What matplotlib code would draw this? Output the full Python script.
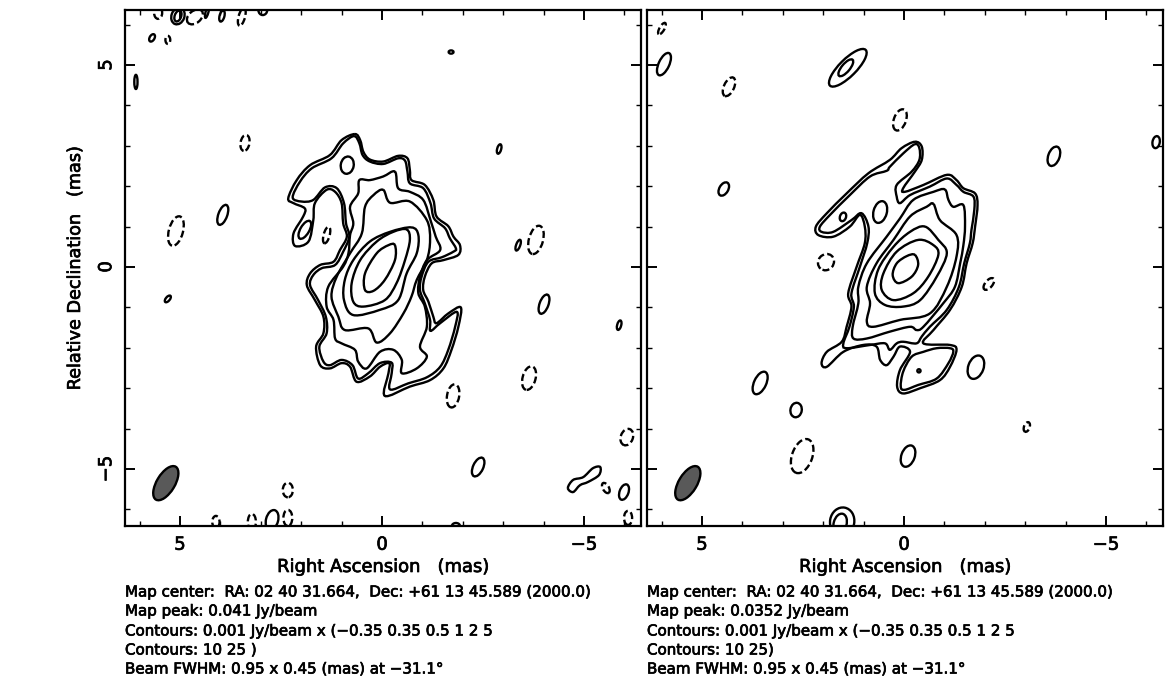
import matplotlib
matplotlib.use("Agg")
import matplotlib.pyplot as plt
import matplotlib.patheffects as pe
from matplotlib.patches import Ellipse, PathPatch
from matplotlib.path import Path

# contours, (RA, Dec) in mas
# left map
l_035 = [(.67,3.29),(.54,3.14),(.46,2.85),(.30,2.66),(-.03,2.61),(-.40,2.75),(-.63,2.69),(-.69,2.40),(-.73,2.15),
         (-1.06,2.03),(-1.27,1.66),(-1.35,1.25),(-1.64,1.01),(-1.77,.75),(-1.93,.54),(-1.89,.30),(-1.52,.17),(-1.23,.09),
         (-1.06,-.24),(-1.02,-.57),(-1.15,-.86),(-1.27,-1.23),(-1.35,-1.39),(-1.64,-1.15),(-1.95,-1.00),(-1.89,-1.48),
         (-1.72,-2.05),(-1.52,-2.51),(-1.19,-2.80),(-.69,-2.96),(-.07,-3.19),(-.16,-2.63),(-.18,-2.38),(.05,-2.47),
         (.30,-2.71),(.63,-2.84),(.79,-2.47),(1.00,-2.38),(1.29,-2.51),(1.53,-2.43),(1.63,-1.97),(1.45,-1.64),(1.45,-1.23),
         (1.66,-.82),(1.86,-.45),(1.78,-.16),(1.53,.05),(1.20,.13),(1.04,.42),(.87,.75),(.96,1.08),(1.00,1.58),(1.16,1.86),
         (1.37,1.91),(1.66,1.58),(1.70,1.16),(1.82,.63),(2.15,.52),(2.19,.83),(1.95,1.25),(1.91,1.45),(2.19,1.58),(2.32,1.70),
         (2.11,2.15),(1.78,2.52),(1.29,2.77),(1.00,3.14)]
l_05 = [(.69,3.24),(.56,3.06),(.48,2.77),(.30,2.61),(-.03,2.55),(-.40,2.69),(-.57,2.63),(-.63,2.36),(-.69,2.07),(-1.02,1.95),
        (-1.20,1.58),(-1.29,1.20),(-1.56,.96),(-1.68,.71),(-1.83,.46),(-1.77,.38),(-1.48,.24),(-1.15,.13),(-.98,-.24),(-.94,-.57),
        (-1.06,-.90),(-1.19,-1.31),(-1.20,-1.58),(-1.44,-1.39),(-1.85,-1.11),(-1.81,-1.48),(-1.64,-2.05),(-1.44,-2.47),
        (-1.11,-2.73),(-.65,-2.88),(-.20,-3.03),(-.24,-2.63),(-.24,-2.37),(.05,-2.38),(.34,-2.63),(.59,-2.76),(.73,-2.43),
        (1.00,-2.30),(1.29,-2.43),(1.45,-2.34),(1.55,-1.97),(1.37,-1.64),(1.39,-1.23),(1.58,-.82),(1.78,-.45),(1.70,-.20),
        (1.49,-.03),(1.16,.05),(.96,.38),(.81,.75),(.89,1.08),(.94,1.58),(1.12,1.95),(1.41,1.97),(1.70,1.66),(1.99,1.62),
        (2.21,1.72),(2.03,2.11),(1.74,2.44),(1.25,2.69),(.96,3.06)]
l_1 = [(-.32,2.36),(-.40,1.95),(-.69,1.86),(-1.02,1.66),(-1.20,1.16),(-1.33,.75),(-1.44,.42),(-1.11,.17),(-.94,-.24),(-.90,-.65),
       (-1.06,-.98),(-1.11,-1.48),(-.94,-1.97),(-1.11,-2.22),(-.86,-2.51),(-.49,-2.63),(-.49,-2.30),(-.28,-2.05),(.05,-2.10),
       (.38,-2.51),(.59,-2.34),(.67,-2.05),(1.00,-1.89),(1.16,-1.77),(1.20,-1.31),(1.37,-.98),(1.33,-.49),(.96,.01),(.83,.34),
       (.79,.79),(.71,1.08),(.79,1.49),(.59,1.82),(.56,2.15),(.30,2.15),(-.03,2.24)]
l_2 = [(-.03,1.91),(-.20,1.59),(-.69,1.62),(-1.11,1.16),(-1.19,.67),(-1.11,.17),(-.86,-.32),(-.73,-.73),(-.53,-1.15),(-.20,-1.64),
       (.13,-1.87),(.34,-1.52),(.92,-1.56),(1.08,-1.23),(1.25,-.73),(1.12,-.24),(.79,.34),(.50,.83),(.42,1.49),(.21,1.78)]
l_5 = [(-.73,.98),(-.90,.79),(-.86,.34),(-.61,-.16),(-.40,-.82),(.05,-1.06),(.71,-1.19),(.94,-.82),(.92,-.32),(.71,.17),(.30,.63),(-.20,.87)]
l_10 = [(-.61,.93),(-.69,.67),(-.57,.17),(-.36,-.40),(-.07,-.82),(.46,-.98),(.71,-.86),(.75,-.40),(.54,.17),(.13,.63),(-.28,.87)]
l_25 = [(-.32,.54),(-.32,.17),(-.07,-.32),(.21,-.59),(.42,-.57),(.42,-.16),(.13,.34),(-.16,.54)]
l_peanut = [(-4.60,-5.47),(-4.73,-5.27),(-4.98,-5.20),(-5.22,-4.98),(-5.40,-4.95),(-5.37,-5.15),(-5.10,-5.32),(-4.90,-5.40),(-4.73,-5.57)]

# right map
r_035 = [(-.27,3.10),(-.44,2.98),(-.44,2.65),(-.27,2.36),(.02,1.95),(-.02,1.86),(-.48,2.03),(-1.06,2.28),(-1.30,2.15),(-1.47,1.95),
         (-1.76,1.82),(-1.82,1.53),(-1.76,1.00),(-1.70,.59),(-1.55,.09),(-1.43,-.49),(-1.14,-1.06),(-.73,-1.56),(-.48,-1.89),
         (-1.14,-1.93),(-1.30,-2.05),(-1.14,-2.47),(-.89,-2.80),(-.40,-3.00),(.02,-3.13),(.17,-2.96),(.10,-2.55),(-.15,-2.10),
         (.10,-1.97),(.26,-2.22),(.43,-2.43),(.59,-2.30),(.68,-1.97),(1.01,-1.93),(1.50,-2.10),(1.91,-2.47),(2.04,-2.38),
         (1.91,-2.10),(1.54,-1.85),(1.42,-1.48),(1.30,-.98),(1.38,-.65),(1.17,.01),(.97,.59),(.97,1.00),(1.09,1.29),(1.34,1.00),
         (1.75,.75),(2.12,.79),(2.18,1.00),(1.91,1.33),(1.42,1.82),(.88,2.32),(.35,2.65),(.06,2.94)]
r_05 = [(-.27,3.04),(-.38,2.94),(-.38,2.65),(-.19,2.36),(.18,2.03),(.18,1.74),(.10,1.58),(-.15,1.78),(-.64,1.99),(-1.06,2.19),
        (-1.30,2.03),(-1.47,1.86),(-1.72,1.74),(-1.74,1.41),(-1.67,.92),(-1.63,.59),(-1.49,.09),(-1.36,-.49),(-1.06,-1.06),
        (-.64,-1.48),(-.44,-1.72),(-.31,-1.89),(.02,-1.85),(.18,-1.89),(.35,-2.05),(.47,-1.89),(.84,-1.93),(1.42,-2.01),
        (1.50,-1.89),(1.35,-1.48),(1.24,-.98),(1.30,-.65),(1.09,.01),(.91,.59),(.88,1.00),(1.05,1.33),(1.30,1.16),(1.75,.87),
        (2.04,.87),(2.08,1.00),(1.83,1.29),(1.34,1.78),(.84,2.24),(.43,2.38),(.35,2.48),(.02,2.81)]
r_05_south = [(-1.14,-2.01),(-1.22,-2.10),(-1.10,-2.38),(-.81,-2.76),(-.35,-2.92),(-.02,-3.04),(.08,-2.96),(.02,-2.59),(-.19,-2.22),(-.48,-2.10),(-.81,-2.01)]
r_1 = [(-1.01,1.92),(-1.10,1.66),(-1.22,1.49),(-1.47,1.53),(-1.51,1.00),(-1.47,.54),(-1.39,.09),(-1.26,-.49),(-.97,-.90),(-.48,-1.48),
       (-.31,-1.56),(-.15,-1.48),(.35,-1.60),(.92,-1.77),(1.25,-1.77),(1.27,-1.48),(1.13,-.90),(1.13,-.49),(.92,.09),(.43,.75),
       (.10,1.20),(-.23,1.66),(-.73,1.86)]
r_2 = [(-.73,1.56),(-.89,1.16),(-1.30,.79),(-1.30,.26),(-1.06,-.49),(-.64,-1.15),(.10,-1.31),(.76,-1.48),(.92,-1.35),(.84,-.90),
       (.92,-.49),(.68,.09),(.26,.67),(-.15,1.25),(-.56,1.49)]
r_5 = [(-.52,1.00),(-.85,.67),(-1.06,.34),(-.81,-.24),(-.40,-.82),(.02,-.98),(.47,-.94),(.72,-.65),(.64,-.07),(.26,.50),(-.15,.87)]
r_10 = [(-.35,.67),(-.73,.54),(-.85,.30),(-.60,-.24),(-.23,-.65),(.26,-.82),(.55,-.57),(.51,-.16),(.18,.38)]
r_25 = [(-.27,.30),(-.35,.05),(-.19,-.24),(.14,-.40),(.28,-.20),(.18,.09),(-.07,.27)]

# small islands: RA, Dec, minor, major (mas), lean from vertical (deg)
l_islands = [(3.94,1.29,.22,.52,20),(-1.71,5.32,.12,.08,0),(-2.90,2.92,.10,.24,15),(-4.01,-.92,.22,.50,20),(-3.37,.54,.10,.28,20),
             (-5.87,-1.44,.10,.24,15),(-2.38,-4.95,.25,.50,25),(-5.99,-5.57,.22,.40,20),(5.05,6.21,.32,.42,20),(5.05,6.21,.16,.28,20),
             (3.96,6.21,.12,.28,15),(4.33,6.31,.07,.30,15),(2.95,6.36,.22,.25,0),(5.69,5.67,.12,.20,30),(6.09,4.58,.08,.35,0),
             (2.72,-6.26,.30,.50,15),(-1.83,-6.41,.20,.15,0),(1.91,.92,.22,.50,30),(.86,2.52,.32,.43,10),(5.30,-.79,.10,.20,40)]
l_negative = [(5.10,.89,.35,.75,15),(3.39,3.07,.22,.40,10),(-3.81,.67,.35,.72,15),(-3.64,-2.75,.32,.60,15),(-1.76,-3.19,.30,.58,10),
              (-6.06,-4.21,.30,.42,20),(2.33,-5.52,.25,.36,0),(-5.54,-5.47,.15,.28,-30),(1.37,.79,.15,.42,15),(5.54,6.29,.20,.30,0),
              (4.63,6.19,.30,.45,50),(3.47,6.19,.16,.45,15),(5.30,5.62,.12,.20,0),(4.11,-6.31,.18,.30,0),(3.22,-6.31,.20,.40,0),
              (2.33,-6.21,.22,.40,0),(-6.09,-6.21,.20,.35,0)]
r_islands = [(5.94,5.02,.26,.60,25),(4.46,1.93,.22,.36,30),(3.56,-2.87,.30,.60,25),(2.67,-3.54,.28,.36,10),(-1.78,-2.48,.38,.60,20),
             (-.10,-4.68,.33,.55,20),(-3.71,2.74,.28,.50,20),(-6.24,3.09,.18,.30,10),(1.39,4.93,.42,1.25,45),(1.44,4.93,.20,.52,40),
             (.59,1.36,.33,.55,15),(1.51,1.24,.15,.22,20),(-.37,-2.57,.08,.08,0),(1.53,-6.30,.60,.70,10),(1.58,-6.35,.32,.50,15)]
r_negative = [(5.99,5.90,.12,.32,30),(4.33,4.46,.25,.50,25),(.10,3.64,.30,.55,20),(1.93,.12,.38,.42,40),(-2.10,-.42,.18,.35,40),
              (2.52,-4.68,.50,.88,20),(-3.04,-3.96,.14,.25,20)]

beam = (5.35, -5.35, .45, .95, 31.1)

l_contours = [l_035, l_05, l_1, l_2, l_5, l_10, l_25, l_peanut]
r_contours = [r_035, r_05, r_05_south, r_1, r_2, r_5, r_10, r_25]

x_label = "Right Ascension   (mas)"
y_label = "Relative Declination   (mas)"
l_info = ["Map center:  RA: 02 40 31.664,  Dec: +61 13 45.589 (2000.0)", "Map peak: 0.041 Jy/beam",
          "Contours: 0.001 Jy/beam x (\u22120.35 0.35 0.5 1 2 5", "Contours: 10 25 )",
          "Beam FWHM: 0.95 x 0.45 (mas) at \u221231.1\u00b0"]
r_info = ["Map center:  RA: 02 40 31.664,  Dec: +61 13 45.589 (2000.0)", "Map peak: 0.0352 Jy/beam",
          "Contours: 0.001 Jy/beam x (\u22120.35 0.35 0.5 1 2 5", "Contours: 10 25)",
          "Beam FWHM: 0.95 x 0.45 (mas) at \u221231.1\u00b0"]
info_y = [592, 611, 631, 650, 669]

W, H = 1172, 687
LW = 1.7
# the reference lettering is a little heavier than regular
HEAVY = [pe.withStroke(linewidth=0.5, foreground="k")]


def smooth_closed(pts):
    # closed catmull-rom through the read points, as bezier segments
    n = len(pts)
    verts = [pts[0]]
    codes = [Path.MOVETO]
    for i in range(n):
        p0, p1, p2, p3 = pts[i - 1], pts[i], pts[(i + 1) % n], pts[(i + 2) % n]
        c1 = (p1[0] + (p2[0] - p0[0]) / 6, p1[1] + (p2[1] - p0[1]) / 6)
        c2 = (p2[0] - (p3[0] - p1[0]) / 6, p2[1] - (p3[1] - p1[1]) / 6)
        verts += [c1, c2, p2]
        codes += [Path.CURVE4] * 3
    return Path(verts, codes)


def draw_map(ax, contours, islands, negative):
    ax.set_xlim(6.36, -6.41)
    ax.set_ylim(-6.41, 6.36)
    for c in contours:
        ax.add_patch(PathPatch(smooth_closed(c), fc="none", ec="k", lw=LW))
    for ra, dec, w, h, lean in islands:
        ax.add_patch(Ellipse((ra, dec), w, h, angle=lean, fc="none", ec="k", lw=LW))
    for ra, dec, w, h, lean in negative:
        ax.add_patch(Ellipse((ra, dec), w, h, angle=lean, fc="none", ec="k", lw=LW, ls=(0, (3, 1.4))))
    ra, dec, w, h, lean = beam
    ax.add_patch(Ellipse((ra, dec), w, h, angle=lean, fc="#595959", ec="k", lw=LW))
    ax.set_xticks([5, 0, -5], ["5", "0", "\u22125"])
    ax.set_yticks([-5, 0, 5])
    ax.set_xticks([6, 4, 3, 2, 1, -1, -2, -3, -4, -6], minor=True)
    ax.set_yticks([-6, -4, -3, -2, -1, 1, 2, 3, 4, 6], minor=True)
    ax.tick_params(which="both", direction="in", top=True, right=True)
    ax.tick_params(which="major", length=7, width=1.4)
    ax.tick_params(which="minor", length=3.5, width=1)
    ax.tick_params(axis="x", labelsize=13, pad=7)
    for s in ax.spines.values():
        s.set_linewidth(1.6)
    for t in ax.get_xticklabels():
        t.set_path_effects(HEAVY)


fig = plt.figure(figsize=(W / 100, H / 100), dpi=100)
ax1 = fig.add_axes([125 / W, 1 - 526 / H, 516 / W, 516 / H])
ax2 = fig.add_axes([647 / W, 1 - 526 / H, 516 / W, 516 / H])
draw_map(ax1, l_contours, l_islands, l_negative)
draw_map(ax2, r_contours, r_islands, r_negative)

ax1.set_yticklabels(["\u22125", "0", "5"], rotation=90, va="center", fontsize=13, path_effects=HEAVY)
ax1.tick_params(axis="y", pad=7)
ax2.set_yticklabels([])

for x0, info in [(125, l_info), (647, r_info)]:
    fig.text((x0 + 258) / W, 1 - 567 / H, x_label, ha="center", va="center", fontsize=12.9, path_effects=HEAVY)
    for y, line in zip(info_y, info):
        fig.text(x0 / W, 1 - y / H, line, ha="left", va="center", fontsize=10.85, path_effects=HEAVY)
fig.text(75 / W, 1 - 268 / H, y_label, rotation=90, ha="center", va="center", fontsize=12.7, path_effects=HEAVY)

fig.savefig("out.png", dpi=100)
